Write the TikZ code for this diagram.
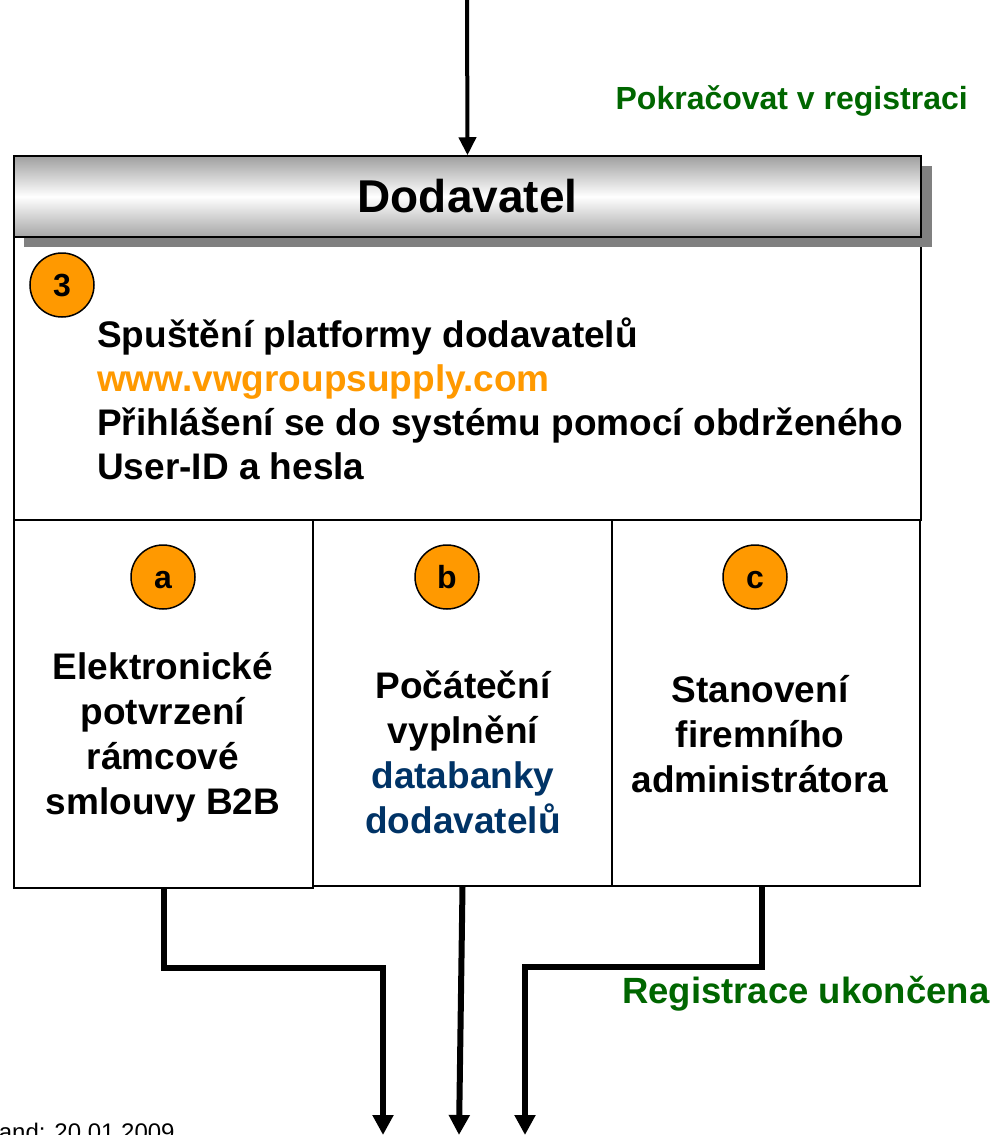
\documentclass[tikz,border=0pt]{standalone}
\usepackage{fontspec}
\setmainfont{Liberation Sans}
\usetikzlibrary{arrows.meta}
\definecolor{vworange}{HTML}{FF9900}
\definecolor{vwgreen}{HTML}{006600}
\definecolor{vwblue}{HTML}{003366}
\tikzset{
  box/.style={draw=black,line width=1.5pt,fill=white,inner sep=0pt},
  mark circ/.style={circle,draw=black,line width=1.5pt,fill=vworange,minimum size=64pt,inner sep=0pt,
    font=\fontsize{32}{32}\selectfont\bfseries,execute at begin node=\vphantom{b}},
  flow/.style={line width=6pt,-{Triangle[length=20pt,width=20pt]}},
  boxtext/.style={align=center,font=\fontsize{37}{45}\selectfont\bfseries,inner sep=0pt},
  greentext/.style={text=vwgreen,font=\bfseries,inner sep=0pt}
}
\begin{document}
\begin{tikzpicture}[x=1pt,y=-1pt]
   \useasboundingbox (0,0) rectangle (996,1135);
   \clip (0,0) rectangle (996,1135);

   \node[box,minimum width=907pt,minimum height=283pt] (main) at (467.5,378.5) {};

   % header with shadow
   \fill[gray] (24,166) rectangle (932,247);
   \node[box,top color=gray!75,bottom color=gray!70,middle color=white,
         minimum width=907pt,minimum height=81pt] (head) at (467.5,196.5)
         {\fontsize{46}{46}\selectfont\bfseries Dodavatel};

   \node[mark circ] (step3) at (62,285) {3};
   \node[anchor=west,align=left,inner sep=0pt,font=\fontsize{37}{44}\selectfont\bfseries] (info) at (97,399)
     {Spuštění platformy dodavatelů\\
      \textcolor{vworange}{www.vwgroupsupply.com}\\
      Přihlášení se do systému pomocí obdrženého\\
      User-ID a hesla};

   % the three sub boxes
   \node[box,minimum width=299pt,minimum height=368pt] (abox) at (163.5,704) {};
   \node[box,minimum width=299pt,minimum height=366pt] (bbox) at (462.5,703) {};
   \node[box,minimum width=308pt,minimum height=366pt] (cbox) at (766,703) {};

   \node[mark circ] (amark) at (163,577) {a};
   \node[mark circ] (bmark) at (447,577) {b};
   \node[mark circ] (cmark) at (755,577) {c};

   \node[boxtext] (atext) at (163,737) {Elektronické\\potvrzení\\rámcové\\smlouvy B2B};
   \node[boxtext] (btext) at (463,752) {Počáteční\\vyplnění\\\textcolor{vwblue}{databanky}\\\textcolor{vwblue}{dodavatelů}};
   \node[boxtext] (ctext) at (760,734) {Stanovení\\firemního\\administrátora};

   % labels
   \node[greentext,anchor=east,font=\fontsize{32}{32}\selectfont\bfseries] (goon) at (968,101) {Pokračovat v registraci};
   \node[greentext,anchor=west,font=\fontsize{36.5}{36.5}\selectfont\bfseries] (done) at (622,994) {Registrace ukončena};
   \node[anchor=base west,inner sep=0pt,font=\fontsize{24}{24}\selectfont] (stand) at (-24,1140) {Stand: 20.01.2009};

   % connectors
   \coordinate (top) at (467,0);
   \draw[line width=4pt,-{Triangle[length=18pt,width=17pt]}] (top) -- (head.north);

   \coordinate (kneeA) at (383,968);
   \coordinate (outA) at (383,1135);
   \coordinate (outB) at (459,1135);
   \coordinate (kneeC) at (525,967);
   \coordinate (outC) at (525,1135);
   \draw[flow] (abox.south) |- (kneeA) -- (outA);
   \draw[flow] (bbox.south) -- (outB);
   \draw[flow] ([xshift=-4pt]cbox.south) |- (kneeC) -- (outC);
\end{tikzpicture}
\end{document}
